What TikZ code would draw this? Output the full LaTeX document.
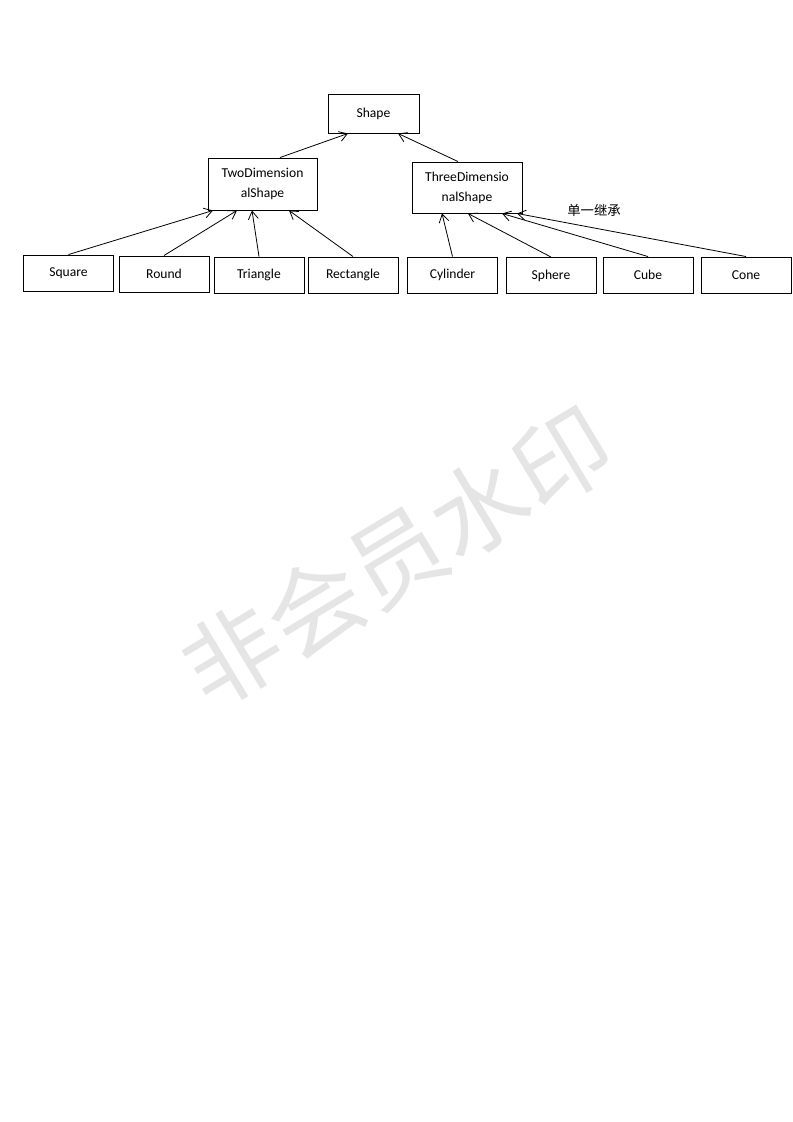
\documentclass[tikz,border=0pt]{standalone}
\usepackage{fontspec}
\setmainfont{Carlito}
\newfontfamily\cjk{Noto Sans CJK SC}
\usepackage{xcolor}
\usepackage{tikz}
\usetikzlibrary{positioning, calc, arrows.meta}

\tikzset{
  box/.style={draw, line width=0.7pt, inner sep=0pt, align=center,
    font=\fontsize{10.2}{15}\selectfont},
  leaf/.style={box, minimum width=67.5pt, minimum height=27pt},
  inherit/.style={line width=0.6pt, -{Straight Barb[length=6pt, width=7.5pt]}}
}

\begin{document}
\begin{tikzpicture}[x=0.75pt, y=-0.75pt]
        \useasboundingbox (0,0) rectangle (793,1122);

        % watermark
        \node[text=black!10, rotate=31, font=\cjk\fontsize{72}{72}\selectfont] (mark) at (397,557) {非会员水印};

        % root and the two middle classes
        \node[box, minimum width=68.25pt, minimum height=29.25pt] (shape) at (373.5,113.5) {Shape};
        \node[box, minimum width=81.75pt, minimum height=39pt] (two) at (262.5,184) {TwoDimension\\alShape};
        \node[box, minimum width=82.5pt, minimum height=38.25pt] (three) at (467,187.5) {ThreeDimensio\\nalShape};

        % leaf classes
        \foreach \nm/\txt/\cx/\cy in {square/Square/68.5/273, round/Round/164/274, triangle/Triangle/259/275, rectangle/Rectangle/353/275} {
          \node[leaf] (\nm) at (\cx,\cy) {\txt};
        }
        \foreach \nm/\txt/\cx/\cy in {cylinder/Cylinder/452.5/275, sphere/Sphere/551/275.5, cube/Cube/648/275, cone/Cone/746/275} {
          \node[leaf] (\nm) at (\cx,\cy) {\txt};
        }

        % inheritance arrows
        \draw[inherit] ($(two.north)+(17.5,0)$) -- ($(shape.south)+(-25.5,0)$);
        \draw[inherit] ($(three.north)+(-9,0)$) -- ($(shape.south)+(24.5,0)$);
        \foreach \nm/\dx in {square/-49.5, round/-25.5, triangle/-10.5, rectangle/26.5} {
          \draw[inherit] (\nm.north) -- ($(two.south)+(\dx,0)$);
        }
        \foreach \nm/\dx in {cylinder/-25, sphere/1, cube/35, cone/50} {
          \draw[inherit] (\nm.north) -- ($(three.south)+(\dx,0)$);
        }

        \node[font=\cjk\fontsize{10}{12}\selectfont] (single) at (594,210) {单一继承};
      \end{tikzpicture}
\end{document}
